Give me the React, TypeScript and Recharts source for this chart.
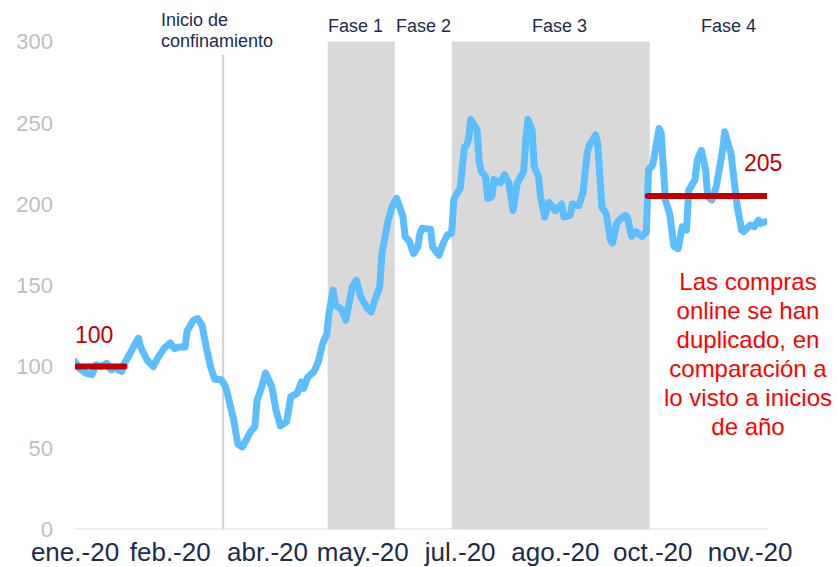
import { Line, LineChart, ReferenceArea, ReferenceLine, XAxis, YAxis } from "recharts";

// días desde el 1 de enero de 2020 y el índice de compras online (ene.-20 = 100)
const dias = [
  0, 2, 5, 8, 10, 12, 15, 17, 19, 22, 23, 26, 28, 30, 31, 34, 37, 39, 42, 45, 47, 49, 52, 53, 56, 58, 60, 62, 64, 66,
  69, 71, 72, 75, 77, 79, 81, 83, 85, 86, 88, 90, 93, 95, 97, 100, 102, 105, 107, 108, 110, 113, 115, 117, 119, 120,
  122, 123, 126, 128, 131, 133, 135, 138, 140, 142, 144, 145, 148, 150, 152, 155, 156, 158, 160, 162, 163, 164, 168,
  169, 172, 174, 176, 178, 179, 180, 182, 184, 185, 186, 187, 190, 191, 192, 194, 195, 197, 198, 201, 203, 205, 207,
  209, 212, 213, 214, 216, 217, 219, 220, 222, 224, 227, 230, 231, 234, 235, 238, 240, 242, 243, 246, 247, 249, 251,
  253, 254, 256, 257, 260, 261, 263, 265, 268, 270, 271, 273, 276, 277, 279, 281, 283, 285, 287, 289, 290, 293, 294,
  296, 298, 299, 301, 303, 306, 307, 310, 312, 313, 315, 316, 319, 321, 323, 324, 326,
];
const indice = [
  103, 99, 96, 95, 101, 100, 102, 98, 99, 97, 101, 108, 113, 117.5, 112, 104, 100, 105, 111, 114.5, 111, 112, 112, 122,
  128.5, 129.5, 125.5, 112, 100, 92, 92, 88, 83.5, 67, 52, 50.5, 55, 60, 63, 79, 86.5, 96, 87.5, 73, 63.5, 66, 81.5,
  83.5, 90.5, 86.5, 93.5, 97, 103, 114, 120, 132.5, 147, 138, 135, 128.5, 149, 153, 143, 136, 133.5, 142, 149, 169.5,
  190, 199, 203.5, 192, 180, 177, 169.5, 173.5, 182, 185, 184.5, 173.5, 168.5, 176, 181, 182, 202.5, 205.5, 209.5, 235,
  236, 240, 252, 245.5, 226, 220, 217, 203.5, 204.5, 215, 213, 218, 213, 196, 213, 220, 239, 252, 245.5, 223, 217,
  204.5, 192, 201, 196, 200, 192, 193, 200, 199, 206.5, 231, 236, 242.5, 237, 198, 194, 178, 176, 188, 190, 193, 192,
  180, 183, 180, 183, 221, 224, 246.5, 243.5, 202.5, 194, 174, 172.5, 186, 184, 208.5, 215, 227, 233, 221, 204.5,
  202.5, 210.5, 233, 244.5, 231, 208.5, 198, 184, 183, 187, 186, 190, 188, 189,
];

const ticksDias = [0, 45, 91, 136, 182, 227, 273, 319];
const etiquetasMes = ["ene.-20", "feb.-20", "abr.-20", "may.-20", "jul.-20", "ago.-20", "oct.-20", "nov.-20"];
const ticksIndice = [0, 50, 100, 150, 200, 250, 300];

const diaConfinamiento = 70;
const fasesSombreadas = [
  { desde: 119.4, hasta: 151.1 },
  { desde: 178, hasta: 271.6 },
];
const tramoInicio = [
  { dia: 0, valor: 100 },
  { dia: 23.4, valor: 100 },
];
const tramoActual = [
  { dia: 270.7, valor: 205 },
  { dia: 327, valor: 205 },
];
const nota = ["Las compras", "online se han", "duplicado, en", "comparación a", "lo visto a inicios", "de año"];

const datos = dias.map((d, i) => ({ dia: d, indice: indice[i] }));

const AZUL = "#5BBEFF";
const ROJO_OSCURO = "#C00000";
const MARINO = "#1B2B4B";
const FUENTE = "'Liberation Sans', Arial, sans-serif";

export default function App() {
  return (
    <div style={{ position: "absolute", left: 0, top: 0, width: 837, height: 567, background: "#fff", fontFamily: FUENTE }}>
      <LineChart width={837} height={567} data={datos} margin={{ top: 41.5, right: 70, bottom: 8, left: 15 }}>
        {fasesSombreadas.map((f, i) => (
          <ReferenceArea key={i} x1={f.desde} x2={f.hasta} y1={0} y2={300} fill="#D9D9D9" fillOpacity={1} stroke="none" />
        ))}
        <ReferenceLine
          segment={[
            { x: diaConfinamiento, y: 0 },
            { x: diaConfinamiento, y: 292 },
          ]}
          stroke="#D3D3D3"
          strokeWidth={2}
        />
        <XAxis
          dataKey="dia"
          type="number"
          domain={[0, 327]}
          ticks={ticksDias}
          interval={0}
          tickFormatter={(v: number) => etiquetasMes[ticksDias.indexOf(v)] ?? ""}
          tick={{ fontSize: 26, fill: MARINO, fontFamily: FUENTE }}
          tickLine={false}
          tickSize={0}
          tickMargin={14}
          axisLine={{ stroke: "#D9D9D9", strokeWidth: 1 }}
          height={30}
          allowDataOverflow
        />
        <YAxis
          domain={[0, 300]}
          ticks={ticksIndice}
          interval={0}
          tick={{ fontSize: 22, fill: "#BFBFBF", fontFamily: FUENTE }}
          tickLine={false}
          tickSize={0}
          tickMargin={22}
          axisLine={false}
          width={60}
        />
        <Line
          dataKey="indice"
          type="linear"
          stroke={AZUL}
          strokeWidth={7}
          strokeLinejoin="round"
          strokeLinecap="round"
          dot={false}
          isAnimationActive={false}
        />
        <Line data={tramoInicio} dataKey="valor" stroke={ROJO_OSCURO} strokeWidth={6} strokeLinecap="round" dot={false} isAnimationActive={false} />
        <Line data={tramoActual} dataKey="valor" stroke={ROJO_OSCURO} strokeWidth={6} strokeLinecap="round" dot={false} isAnimationActive={false} />
      </LineChart>

      <svg width={837} height={567} style={{ position: "absolute", left: 0, top: 0, pointerEvents: "none" }} fontFamily={FUENTE}>
        <text x={161} y={26} fontSize={18} fill={MARINO}>Inicio de</text>
        <text x={161} y={47} fontSize={18} fill={MARINO}>confinamiento</text>
        <text x={328} y={32} fontSize={18} fill={MARINO}>Fase 1</text>
        <text x={396} y={32} fontSize={18} fill={MARINO}>Fase 2</text>
        <text x={532} y={32} fontSize={18} fill={MARINO}>Fase 3</text>
        <text x={701} y={32} fontSize={18} fill={MARINO}>Fase 4</text>
        <text x={75} y={343} fontSize={23} fill={ROJO_OSCURO}>100</text>
        <text x={744} y={171} fontSize={23} fill={ROJO_OSCURO}>205</text>
        {nota.map((l, i) => (
          <text key={i} x={748} y={290 + i * 29} fontSize={24} fill="#FF0000" textAnchor="middle">
            {l}
          </text>
        ))}
      </svg>
    </div>
  );
}
